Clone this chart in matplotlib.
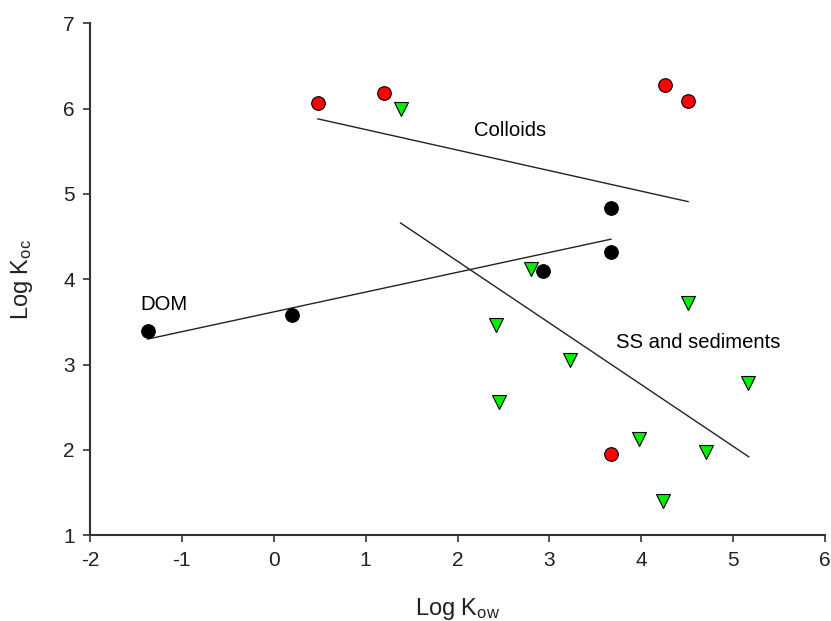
import matplotlib
matplotlib.use("Agg")
import matplotlib.pyplot as plt

plt.rcParams['font.family'] = ['Liberation Sans', 'DejaVu Sans']
plt.rcParams['mathtext.fontset'] = 'custom'
plt.rcParams['mathtext.rm'] = 'Liberation Sans'
plt.rcParams['mathtext.it'] = 'Liberation Sans'
plt.rcParams['axes.unicode_minus'] = False

# Data
colloid_x = [0.48, 1.20, 4.26, 4.51, 3.67]
colloid_y = [6.07, 6.18, 6.28, 6.09, 1.95]

dom_x = [-1.37, 0.20, 2.93, 3.67, 3.67]
dom_y = [3.39, 3.58, 4.10, 4.83, 4.32]

ss_x = [1.39, 2.80, 4.51, 2.42, 3.22, 2.45, 5.16, 3.97, 4.70, 4.24]
ss_y = [6.00, 4.12, 3.72, 3.46, 3.05, 2.56, 2.78, 2.13, 1.98, 1.40]

# Regression line endpoints
colloid_fit_x = [0.48, 4.51]
colloid_fit_y = [5.88, 4.91]
dom_fit_x = [-1.37, 3.67]
dom_fit_y = [3.30, 4.47]
ss_fit_x = [1.38, 5.17]
ss_fit_y = [4.66, 1.92]

x_ticks = [-2, -1, 0, 1, 2, 3, 4, 5, 6]
y_ticks = [1, 2, 3, 4, 5, 6, 7]

fig = plt.figure(figsize=(8.31, 6.21), dpi=100)
ax = fig.add_axes([0.1083, 0.138, 0.8845, 0.8245])

ax.plot(colloid_fit_x, colloid_fit_y, color='#222222', lw=1.0, zorder=2)
ax.plot(dom_fit_x, dom_fit_y, color='#222222', lw=1.0, zorder=2)
ax.plot(ss_fit_x, ss_fit_y, color='#222222', lw=1.0, zorder=2)

ax.plot(ss_x, ss_y, linestyle='none', marker='v', markersize=10,
        markerfacecolor='#00ee00', markeredgecolor='black', markeredgewidth=0.8, zorder=3)
ax.plot(colloid_x, colloid_y, linestyle='none', marker='o', markersize=9.8,
        markerfacecolor='#ff0000', markeredgecolor='black', markeredgewidth=0.8, zorder=4)
ax.plot(dom_x, dom_y, linestyle='none', marker='o', markersize=9.8,
        markerfacecolor='black', markeredgecolor='black', markeredgewidth=0.8, zorder=4)

ax.text(2.57, 5.74, 'Colloids', fontsize=14.6, ha='center', va='center')
ax.text(-1.19, 3.71, 'DOM', fontsize=14.6, ha='center', va='center')
ax.text(4.62, 3.26, 'SS and sediments', fontsize=14.6, ha='center', va='center')

ax.set_xlim(-2, 6)
ax.set_ylim(1, 7)
ax.set_xticks(x_ticks)
ax.set_yticks(y_ticks)
ax.tick_params(direction='out', length=5, width=1.2, colors='#333333',
               labelsize=15, labelcolor='#222222', pad=6)

for s in ['top', 'right']:
    ax.spines[s].set_visible(False)
for s in ['left', 'bottom']:
    ax.spines[s].set_linewidth(1.5)
    ax.spines[s].set_color('#333333')

ax.set_xlabel(r'Log K$_{\mathregular{ow}}$', fontsize=17, labelpad=19, color='#222222')
ax.set_ylabel(r'Log K$_{\mathregular{oc}}$', fontsize=17, labelpad=20, color='#222222')

fig.savefig('out.png', dpi=100)
